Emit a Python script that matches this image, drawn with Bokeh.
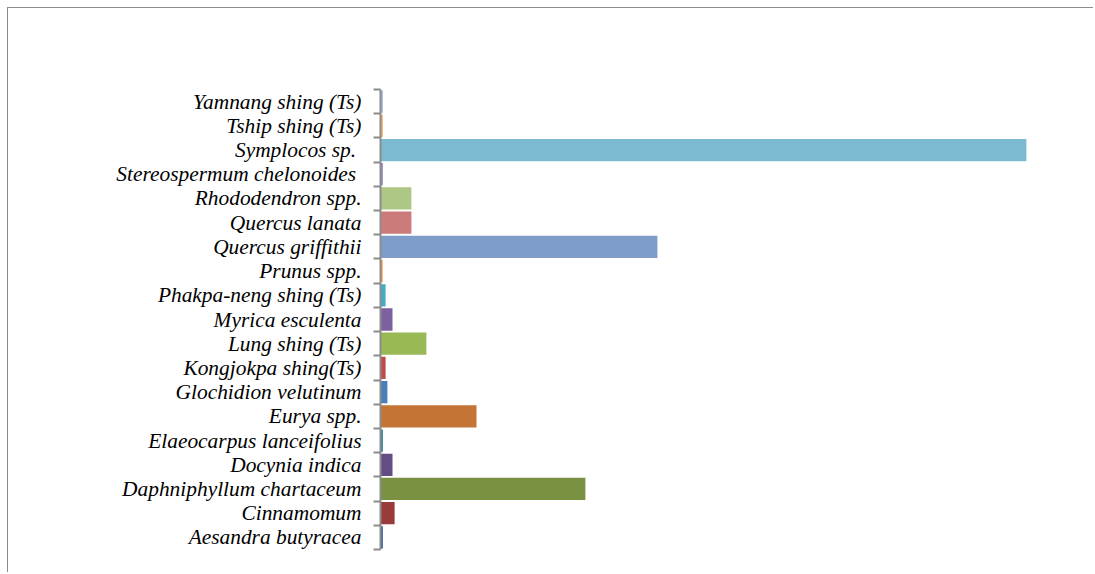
from bokeh.plotting import figure
from bokeh.models import ColumnDataSource, FixedTicker, Range1d
from bokeh.embed import file_html
from bokeh.resources import INLINE

species = [
    "Aesandra butyracea", "Cinnamomum", "Daphniphyllum chartaceum", "Docynia indica",
    "Elaeocarpus lanceifolius", "Eurya spp.", "Glochidion velutinum", "Kongjokpa shing(Ts)",
    "Lung shing (Ts)", "Myrica esculenta", "Phakpa-neng shing (Ts)", "Prunus spp.",
    "Quercus griffithii", "Quercus lanata", "Rhododendron spp.", "Stereospermum chelonoides ",
    "Symplocos sp. ", "Tship shing (Ts)", "Yamnang shing (Ts)",
]
values = [0.8, 4.7, 68.3, 4.0, 0.8, 32.0, 2.3, 1.7, 15.3, 4.0, 1.7, 0.7,
          92.3, 10.3, 10.3, 0.8, 215.3, 0.8, 0.8]
colors = [
    "#3C6497", "#9A3B3B", "#7A9142", "#644D84", "#31859C", "#C47535",
    "#4A7EBB", "#BE4B48", "#98B954", "#7D60A0", "#46AAC5", "#F69240",
    "#7F9DC9", "#CB7B79", "#AFC785", "#9D8BB9", "#7BBAD0", "#F9B074", "#A7B9DA",
]

n = len(species)
centers = [i + 0.5 for i in range(n)]
src = ColumnDataSource(dict(y=centers, v=values, c=colors, name=species))

W, H = 1086, 565
left, top, bottom = 372, 81, 24
p = figure(width=W, height=H, output_backend="svg", toolbar_location=None,
           x_range=Range1d(0, (W - left) / 3.0), y_range=Range1d(0, n),
           min_border_left=left, min_border_top=top, min_border_bottom=bottom, min_border_right=0,
           x_axis_location=None)
p.styles = {"border-left": "1px solid #8c8c8c", "border-top": "1px solid #8c8c8c",
            "margin-left": "7px", "margin-top": "7px"}

p.hbar(y="y", left=0, right="v", height=0.92, fill_color="c", line_color=None, source=src)

p.outline_line_color = None
p.xgrid.visible = False
p.ygrid.visible = False

ax = p.yaxis[0]
ax.ticker = FixedTicker(ticks=centers, minor_ticks=list(range(n + 1)))
ax.major_label_overrides = {c: s for c, s in zip(centers, species)}
ax.major_tick_line_color = None
ax.major_tick_out = 0
ax.major_tick_in = 0
ax.minor_tick_out = 7
ax.minor_tick_in = 0
ax.minor_tick_line_color = "#8c8c8c"
ax.minor_tick_line_width = 2
ax.axis_line_color = "#8c8c8c"
ax.axis_line_width = 2
ax.major_label_standoff = 12
ax.major_label_text_font = "Liberation Serif"
ax.major_label_text_font_style = "italic"
ax.major_label_text_font_size = "21.4px"
ax.major_label_text_color = "black"

open("out.html", "w").write(file_html(p, INLINE))
